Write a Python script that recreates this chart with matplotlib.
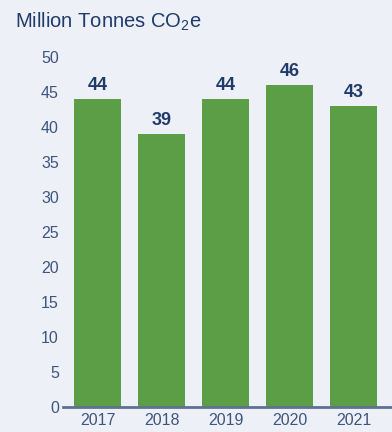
import matplotlib
matplotlib.use("Agg")
import matplotlib.pyplot as plt

years = ["2017", "2018", "2019", "2020", "2021"]
values = [44, 39, 44, 46, 43]
yticks = [0, 5, 10, 15, 20, 25, 30, 35, 40, 45, 50]

BG = "#edf0f6"
GREEN = "#5b9e45"
NAVY = "#1f3a6b"
TICK = "#3d5580"
AXIS = "#5f7292"
FONT = "Liberation Sans"

plt.rcParams["font.family"] = [FONT, "DejaVu Sans"]
plt.rcParams["mathtext.fontset"] = "custom"
plt.rcParams["mathtext.rm"] = FONT

fig = plt.figure(figsize=(3.92, 4.32), dpi=100, facecolor=BG)
ax = fig.add_axes([63/392, 1 - 407/432, (392-63)/392, 350/432])
ax.set_facecolor(BG)

x = list(range(len(years)))
ax.bar(x, values, width=0.73, color=GREEN, zorder=2)
for xi, v in zip(x, values):
    ax.text(xi, v + 0.7, str(v), ha="center", va="bottom", fontsize=13,
            fontweight="bold", color=NAVY)

ax.set_xlim(-0.54, 4.6)
ax.set_ylim(0, 50)
ax.set_xticks(x)
ax.set_xticklabels(years)
ax.set_yticks(yticks)
ax.tick_params(axis="x", length=0, pad=4, labelsize=11.5, labelcolor=TICK)
ax.tick_params(axis="y", length=0, pad=3, labelsize=11.5, labelcolor=TICK)
for s in ["top", "right", "left"]:
    ax.spines[s].set_visible(False)
ax.spines["bottom"].set_color(AXIS)
ax.spines["bottom"].set_linewidth(2)

fig.text(15/392, 1 - 22/432, r"Million Tonnes CO$_\mathregular{2}$e", ha="left",
         va="center", fontsize=14.5, color=NAVY)

fig.savefig("out.png", dpi=100, facecolor=BG)
